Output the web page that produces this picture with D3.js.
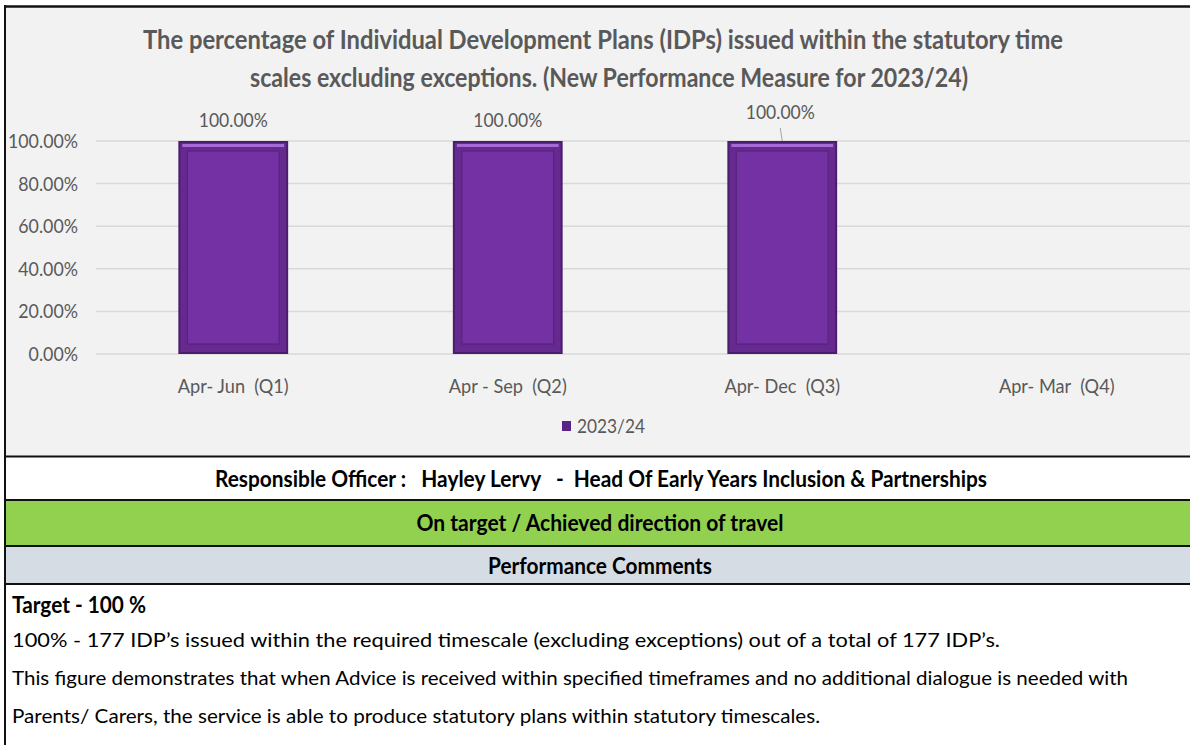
<!DOCTYPE html>
<html>
<head>
<meta charset="utf-8">
<script src="https://cdn.jsdelivr.net/npm/d3@7"></script>
<style>
  html, body { margin: 0; padding: 0; background: #fff; }
  svg { display: block; font-family: Lato, "Open Sans", sans-serif; }
</style>
</head>
<body>
<svg id="chart" width="1190" height="745"></svg>
<script>
// ---- data ----
let quarters = ["Apr- Jun  (Q1)", "Apr - Sep  (Q2)", "Apr- Dec  (Q3)", "Apr- Mar  (Q4)"];
let values = [1, 1, 1, null];
let yTicks = [0, 0.2, 0.4, 0.6, 0.8, 1];
let seriesName = "2023/24";
let titleLines = [
  "The percentage of Individual Development Plans (IDPs) issued within the statutory time",
  "scales excluding exceptions. (New Performance Measure for 2023/24)"
];
let officerText = "Responsible Officer :   Hayley Lervy   -  Head Of Early Years Inclusion & Partnerships";
let statusText = "On target / Achieved direction of travel";
let commentsHeader = "Performance Comments";
let targetText = "Target - 100 %";
let commentLines = [
  "100% - 177 IDP\u2019s issued within the required timescale (excluding exceptions) out of a total of 177 IDP\u2019s.",
  "This figure demonstrates that when Advice is received within specified timeframes and no additional dialogue is needed with",
  "Parents/ Carers, the service is able to produce statutory plans within statutory timescales."
];

let svg = d3.select("#chart");
const W = 1190, H = 745;
let fmt = d3.format(".2%");

// the reference font is narrow: squeeze each text so its widest member hits a given width
function squeezeTo(sel, widest) {
  let max = d3.max(sel.nodes(), n => n.getComputedTextLength());
  let r = Math.min(1, widest / max);
  sel.each(function() {
    let w = this.getComputedTextLength();
    d3.select(this).attr("textLength", w * r).attr("lengthAdjust", "spacingAndGlyphs");
  });
}
function fitTo(sel, widths) {
  sel.attr("textLength", (d, i) => widths[i]).attr("lengthAdjust", "spacingAndGlyphs");
}

// panel backgrounds
svg.append("rect").attr("x", 5).attr("y", 6).attr("width", W).attr("height", 450).attr("fill", "#f2f2f2");
svg.append("rect").attr("x", 5).attr("y", 457).attr("width", W).attr("height", 43).attr("fill", "#ffffff");
svg.append("rect").attr("x", 5).attr("y", 500).attr("width", W).attr("height", 46).attr("fill", "#92d050");
svg.append("rect").attr("x", 5).attr("y", 546).attr("width", W).attr("height", 38).attr("fill", "#d6dce4");

// scales
let x = d3.scaleBand().domain(quarters).range([96, 1194]).paddingInner(0.6).paddingOuter(0.3);
let y = d3.scaleLinear().domain([0, 1]).range([354, 141]);

// gridlines
svg.append("g").selectAll("line").data(yTicks).join("line")
  .attr("x1", 96).attr("x2", W)
  .attr("y1", d => y(d)).attr("y2", d => y(d))
  .attr("stroke", "#d9d9d9").attr("stroke-width", 1.5);

// y axis labels
let yLab = svg.append("g").selectAll("text").data(yTicks).join("text")
  .attr("x", 78).attr("y", d => y(d)).attr("dy", "0.35em")
  .attr("text-anchor", "end").attr("fill", "#595959").attr("font-size", 20)
  .text(d => fmt(d));
squeezeTo(yLab, 70);

// bars with bevel look
let barData = quarters.map((q, i) => ({q, v: values[i], i})).filter(d => d.v != null);
let bars = svg.append("g").selectAll("g").data(barData).join("g");
bars.append("rect")
  .attr("x", d => x(d.q)).attr("y", d => y(d.v))
  .attr("width", x.bandwidth()).attr("height", d => y(0) - y(d.v))
  .attr("fill", "#4a1d6d");
bars.append("rect")
  .attr("x", d => x(d.q) + 2).attr("y", d => y(d.v) + 2)
  .attr("width", x.bandwidth() - 4).attr("height", d => y(0) - y(d.v) - 4)
  .attr("fill", "#65298f");
bars.append("rect")
  .attr("x", d => x(d.q) + 4).attr("y", d => y(d.v) + 3)
  .attr("width", x.bandwidth() - 8).attr("height", 3)
  .attr("fill", "#a56ad6");
bars.append("rect")
  .attr("x", d => x(d.q) + 9).attr("y", d => y(d.v) + 10)
  .attr("width", x.bandwidth() - 18).attr("height", d => y(0) - y(d.v) - 20)
  .attr("fill", "#7431a3").attr("stroke", "#58247f").attr("stroke-width", 1.2);

// data labels (Q3 label sits higher with leader line)
let labelOffset = [21, 21, 29, 21];
let dLab = svg.append("g").selectAll("text").data(barData).join("text")
  .attr("x", d => x(d.q) + x.bandwidth() / 2 + (d.i === 2 ? -2 : 0))
  .attr("y", d => y(d.v) - labelOffset[d.i]).attr("dy", "0.35em")
  .attr("text-anchor", "middle").attr("fill", "#595959").attr("font-size", 20)
  .text(d => fmt(d.v));
squeezeTo(dLab, 69);
svg.append("line")
  .attr("x1", x(quarters[2]) + x.bandwidth() / 2 - 2).attr("y1", y(values[2]) - 13)
  .attr("x2", x(quarters[2]) + x.bandwidth() / 2).attr("y2", y(values[2]))
  .attr("stroke", "#a6a6a6").attr("stroke-width", 1);

// category labels
let cLab = svg.append("g").selectAll("text").data(quarters).join("text")
  .attr("x", d => x(d) + x.bandwidth() / 2).attr("y", 386).attr("dy", "0.35em")
  .attr("text-anchor", "middle").attr("fill", "#595959").attr("font-size", 20)
  .attr("xml:space", "preserve")
  .text(d => d);
squeezeTo(cLab, 118);

// legend
svg.append("rect").attr("x", 562).attr("y", 421).attr("width", 9).attr("height", 10).attr("fill", "#5a2486");
let lg = svg.append("text").attr("x", 577).attr("y", 426).attr("dy", "0.35em")
  .attr("fill", "#595959").attr("font-size", 20).text(seriesName);
squeezeTo(lg, 68);

// title
let titleX = [603, 609];
let tt = svg.append("g").selectAll("text").data(titleLines).join("text")
  .attr("x", (d, i) => titleX[i]).attr("y", (d, i) => 40 + i * 38).attr("dy", "0.35em")
  .attr("text-anchor", "middle").attr("fill", "#595959")
  .attr("font-size", 26).attr("font-weight", "bold")
  .text(d => d);
fitTo(tt, [920, 718]);

// table rows
let rows = [
  {t: officerText, y: 479, x: 601, w: 772},
  {t: statusText, y: 523, x: 600, w: 367},
  {t: commentsHeader, y: 566, x: 600, w: 224}
];
let rt = svg.append("g").selectAll("text").data(rows).join("text")
  .attr("x", d => d.x).attr("y", d => d.y).attr("dy", "0.35em")
  .attr("text-anchor", "middle").attr("fill", "#000")
  .attr("font-size", 22).attr("font-weight", "bold")
  .attr("xml:space", "preserve")
  .text(d => d.t);
fitTo(rt, rows.map(d => d.w));

let tg = svg.append("text").attr("x", 12).attr("y", 605).attr("dy", "0.35em")
  .attr("fill", "#000").attr("font-size", 22).attr("font-weight", "bold").text(targetText);
fitTo(tg, [134]);
let cm = svg.append("g").selectAll("text").data(commentLines).join("text")
  .attr("x", 12).attr("y", (d, i) => 640 + i * 38).attr("dy", "0.35em")
  .attr("fill", "#000").attr("font-size", 20)
  .text(d => d);
fitTo(cm, [988, 1116, 808]);

// borders
let hLines = [6.5, 456.5, 500, 546, 584];
svg.append("g").selectAll("line").data(hLines).join("line")
  .attr("x1", 4).attr("x2", W).attr("y1", d => d).attr("y2", d => d)
  .attr("stroke", "#111").attr("stroke-width", (d, i) => i === 0 ? 2.5 : 2);
svg.append("line").attr("x1", 5).attr("x2", 5).attr("y1", 5).attr("y2", H)
  .attr("stroke", "#111").attr("stroke-width", 2);
</script>
</body>
</html>
